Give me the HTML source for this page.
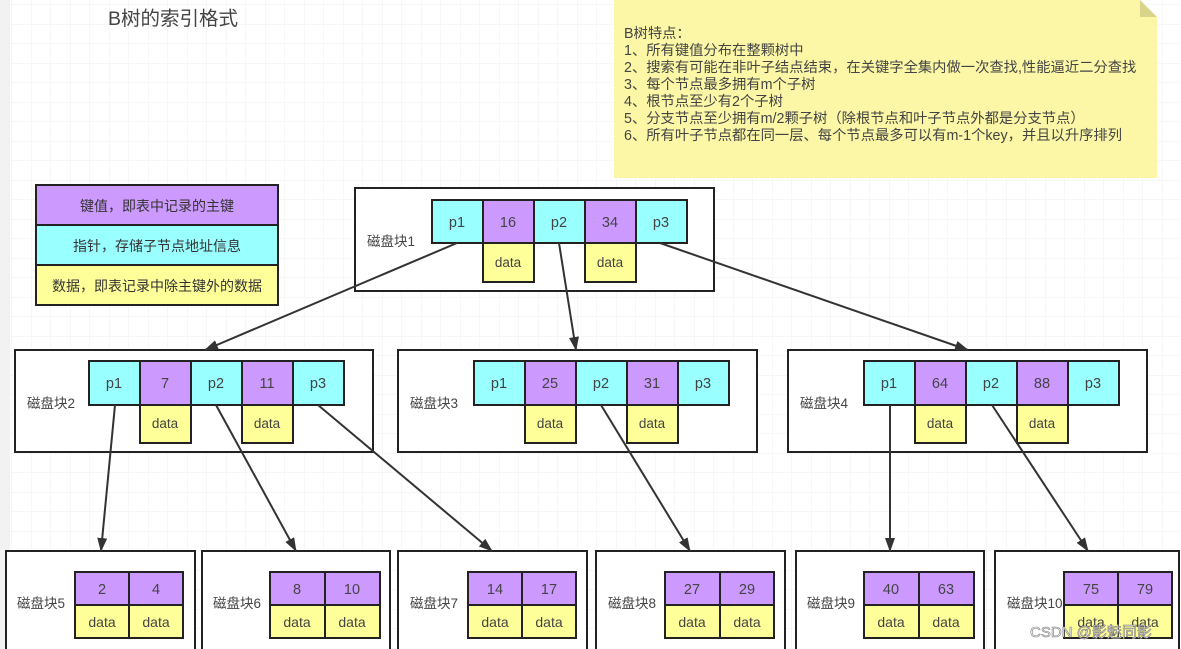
<!DOCTYPE html>
<html><head><meta charset="utf-8"><style>
html,body{margin:0;padding:0;width:1181px;height:649px;overflow:hidden;background:#fff}
svg text{font-family:"Liberation Sans","Noto Sans CJK SC",sans-serif;}
</style></head><body>
<svg width="1181" height="649" xmlns="http://www.w3.org/2000/svg">
<defs>
<pattern id="g" width="19.5" height="19.5" patternUnits="userSpaceOnUse" x="12" y="5">
<path d="M19.5 0V19.5M0 19.5H19.5" stroke="#efefef" stroke-width="1" fill="none"/>
</pattern>
<marker id="a" markerWidth="14" markerHeight="10" refX="13" refY="5" orient="auto" markerUnits="userSpaceOnUse">
<path d="M0,0 L14,5 L0,10 Z" fill="#333"/>
</marker>
</defs>
<rect width="1181" height="649" fill="url(#g)"/>
<rect width="10" height="649" fill="#f2f2f2"/>
<text x="108" y="25" font-size="19.5" fill="#444">B树的索引格式</text>

<!-- note -->
<path d="M614 0 H1140 L1157 17 V178 H614 Z" fill="#fbf7a6"/>
<path d="M1140 0 L1157 17 H1140 Z" fill="#d8d48a"/>
<g font-size="14.3" fill="#444">
<text x="624" y="38">B树特点：</text>
<text x="624" y="55">1、所有键值分布在整颗树中</text>
<text x="624" y="72">2、搜索有可能在非叶子结点结束，在关键字全集内做一次查找,性能逼近二分查找</text>
<text x="624" y="89">3、每个节点最多拥有m个子树</text>
<text x="624" y="106">4、根节点至少有2个子树</text>
<text x="624" y="123">5、分支节点至少拥有m/2颗子树（除根节点和叶子节点外都是分支节点）</text>
<text x="624" y="140">6、所有叶子节点都在同一层、每个节点最多可以有m-1个key，并且以升序排列</text>
</g>

<!-- legend -->
<g stroke="#222" stroke-width="2">
<rect x="36" y="185" width="242" height="40" fill="#cc99ff"/>
<rect x="36" y="225" width="242" height="40" fill="#99ffff"/>
<rect x="36" y="265" width="242" height="40" fill="#ffff99"/>
</g>
<g font-size="14" fill="#333" text-anchor="middle">
<text x="157" y="211">键值，即表中记录的主键</text>
<text x="157" y="251">指针，存储子节点地址信息</text>
<text x="157" y="291">数据，即表记录中除主键外的数据</text>
</g>

<g stroke="#222" stroke-width="2" fill="#fff">
<rect x="355" y="188" width="359" height="103"/>
<rect x="15" y="350" width="358" height="102"/>
<rect x="398" y="350" width="359" height="102"/>
<rect x="788" y="350" width="359" height="102"/>
<rect x="6" y="551" width="189" height="100"/>
<rect x="202" y="551" width="188" height="100"/>
<rect x="398" y="551" width="189" height="100"/>
<rect x="596" y="551" width="189" height="100"/>
<rect x="796" y="551" width="188" height="100"/>
<rect x="995" y="551" width="184" height="100"/>
</g>

<g font-size="13.5" fill="#444">
<text x="367" y="246">磁盘块1</text>
<text x="27" y="408">磁盘块2</text>
<text x="410" y="408">磁盘块3</text>
<text x="800" y="408">磁盘块4</text>
<text x="17" y="608">磁盘块5</text>
<text x="213" y="608">磁盘块6</text>
<text x="410" y="608">磁盘块7</text>
<text x="608" y="608">磁盘块8</text>
<text x="807" y="608">磁盘块9</text>
<text x="1007" y="608">磁盘块10</text>
</g>

<!-- inner node cells -->
<g stroke="#222" stroke-width="2">
<rect x="432" y="200" width="51" height="43" fill="#99ffff"/>
<rect x="483" y="200" width="51" height="43" fill="#cc99ff"/>
<rect x="534" y="200" width="51" height="43" fill="#99ffff"/>
<rect x="585" y="200" width="51" height="43" fill="#cc99ff"/>
<rect x="636" y="200" width="51" height="43" fill="#99ffff"/>
<rect x="483" y="243" width="51" height="39" fill="#ffff99"/>
<rect x="585" y="243" width="51" height="39" fill="#ffff99"/>
<rect x="89" y="361" width="51" height="44" fill="#99ffff"/>
<rect x="140" y="361" width="51" height="44" fill="#cc99ff"/>
<rect x="191" y="361" width="51" height="44" fill="#99ffff"/>
<rect x="242" y="361" width="51" height="44" fill="#cc99ff"/>
<rect x="293" y="361" width="51" height="44" fill="#99ffff"/>
<rect x="140" y="405" width="51" height="38" fill="#ffff99"/>
<rect x="242" y="405" width="51" height="38" fill="#ffff99"/>
<rect x="474" y="361" width="51" height="44" fill="#99ffff"/>
<rect x="525" y="361" width="51" height="44" fill="#cc99ff"/>
<rect x="576" y="361" width="51" height="44" fill="#99ffff"/>
<rect x="627" y="361" width="51" height="44" fill="#cc99ff"/>
<rect x="678" y="361" width="51" height="44" fill="#99ffff"/>
<rect x="525" y="405" width="51" height="38" fill="#ffff99"/>
<rect x="627" y="405" width="51" height="38" fill="#ffff99"/>
<rect x="864" y="361" width="51" height="44" fill="#99ffff"/>
<rect x="915" y="361" width="51" height="44" fill="#cc99ff"/>
<rect x="966" y="361" width="51" height="44" fill="#99ffff"/>
<rect x="1017" y="361" width="51" height="44" fill="#cc99ff"/>
<rect x="1068" y="361" width="51" height="44" fill="#99ffff"/>
<rect x="915" y="405" width="51" height="38" fill="#ffff99"/>
<rect x="1017" y="405" width="51" height="38" fill="#ffff99"/>
</g>
<g font-size="14.5" fill="#444" text-anchor="middle">
<text x="457" y="227">p1</text><text x="508" y="227">16</text><text x="559" y="227">p2</text><text x="610" y="227">34</text><text x="661" y="227">p3</text>
<text x="114" y="388">p1</text><text x="165" y="388">7</text><text x="216" y="388">p2</text><text x="267" y="388">11</text><text x="318" y="388">p3</text>
<text x="499" y="388">p1</text><text x="550" y="388">25</text><text x="601" y="388">p2</text><text x="652" y="388">31</text><text x="703" y="388">p3</text>
<text x="889" y="388">p1</text><text x="940" y="388">64</text><text x="991" y="388">p2</text><text x="1042" y="388">88</text><text x="1093" y="388">p3</text>
</g>
<g font-size="13.5" fill="#444" text-anchor="middle">
<text x="508" y="267">data</text><text x="610" y="267">data</text>
<text x="165" y="428">data</text><text x="267" y="428">data</text>
<text x="550" y="428">data</text><text x="652" y="428">data</text>
<text x="940" y="428">data</text><text x="1042" y="428">data</text>
</g>

<!-- leaf cells -->
<g stroke="#222" stroke-width="2">
<rect x="75" y="572" width="54" height="33" fill="#cc99ff"/><rect x="129" y="572" width="54" height="33" fill="#cc99ff"/>
<rect x="75" y="605" width="54" height="33" fill="#ffff99"/><rect x="129" y="605" width="54" height="33" fill="#ffff99"/>
<rect x="270" y="572" width="55" height="33" fill="#cc99ff"/><rect x="325" y="572" width="55" height="33" fill="#cc99ff"/>
<rect x="270" y="605" width="55" height="33" fill="#ffff99"/><rect x="325" y="605" width="55" height="33" fill="#ffff99"/>
<rect x="468" y="572" width="54" height="33" fill="#cc99ff"/><rect x="522" y="572" width="54" height="33" fill="#cc99ff"/>
<rect x="468" y="605" width="54" height="33" fill="#ffff99"/><rect x="522" y="605" width="54" height="33" fill="#ffff99"/>
<rect x="665" y="572" width="55" height="33" fill="#cc99ff"/><rect x="720" y="572" width="54" height="33" fill="#cc99ff"/>
<rect x="665" y="605" width="55" height="33" fill="#ffff99"/><rect x="720" y="605" width="54" height="33" fill="#ffff99"/>
<rect x="864" y="572" width="55" height="33" fill="#cc99ff"/><rect x="919" y="572" width="55" height="33" fill="#cc99ff"/>
<rect x="864" y="605" width="55" height="33" fill="#ffff99"/><rect x="919" y="605" width="55" height="33" fill="#ffff99"/>
<rect x="1064" y="572" width="54" height="33" fill="#cc99ff"/><rect x="1118" y="572" width="54" height="33" fill="#cc99ff"/>
<rect x="1064" y="605" width="54" height="33" fill="#ffff99"/><rect x="1118" y="605" width="54" height="33" fill="#ffff99"/>
</g>
<g font-size="14.5" fill="#444" text-anchor="middle">
<text x="102" y="594">2</text><text x="156" y="594">4</text>
<text x="297" y="594">8</text><text x="352" y="594">10</text>
<text x="495" y="594">14</text><text x="549" y="594">17</text>
<text x="692" y="594">27</text><text x="747" y="594">29</text>
<text x="891" y="594">40</text><text x="946" y="594">63</text>
<text x="1091" y="594">75</text><text x="1145" y="594">79</text>
</g>
<g font-size="14" fill="#444" text-anchor="middle">
<text x="102" y="627">data</text><text x="156" y="627">data</text>
<text x="297" y="627">data</text><text x="352" y="627">data</text>
<text x="495" y="627">data</text><text x="549" y="627">data</text>
<text x="692" y="627">data</text><text x="747" y="627">data</text>
<text x="891" y="627">data</text><text x="946" y="627">data</text>
<text x="1091" y="627">data</text><text x="1145" y="627">data</text>
</g>

<!-- arrows -->
<g stroke="#333" stroke-width="2" fill="none" marker-end="url(#a)">
<line x1="457" y1="243" x2="205" y2="350"/>
<line x1="559" y1="243" x2="576" y2="350"/>
<line x1="660" y1="243" x2="968" y2="350"/>
<line x1="115" y1="405" x2="101" y2="551"/>
<line x1="216" y1="405" x2="296" y2="551"/>
<line x1="318" y1="405" x2="492" y2="551"/>
<line x1="601" y1="405" x2="690" y2="551"/>
<line x1="890" y1="405" x2="890" y2="551"/>
<line x1="992" y1="405" x2="1088" y2="551"/>
</g>

<text x="1030" y="637" font-size="15" fill="#fff" stroke="#777" stroke-width="0.6">CSDN @影魅同影</text>
</svg>
</body></html>
